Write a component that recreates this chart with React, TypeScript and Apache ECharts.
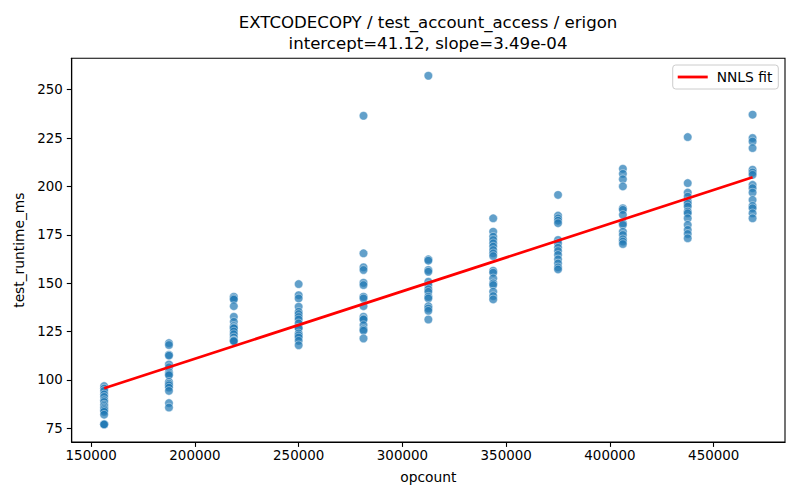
import React, { useEffect, useRef } from "react";
import * as echarts from "echarts";

const titleLine1 = "EXTCODECOPY / test_account_access / erigon";
const titleLine2 = "intercept=41.12, slope=3.49e-04";
const xAxisName = "opcount";
const yAxisName = "test_runtime_ms";
const legendName = "NNLS fit";

const intercept = 41.12;
const slope = 3.49e-4;

const opcounts = [156250, 187500, 218750, 250000, 281250, 312500, 343750, 375000, 406250, 437500, 468750];

const runtimes156250 = [96.8, 95.5, 94.3, 92.5, 91.2, 89.5, 88.6, 87.2, 86.5, 85.7, 85.0, 84.3, 83.5, 82.0, 77.2, 76.9, 77.0];
const runtimes187500 = [119, 118, 113, 112.5, 108, 106.5, 104, 103, 102.4, 99, 98, 97.2, 96, 94.3, 88, 85.7];
const runtimes218750 = [143, 142.1, 141.5, 138.1, 132.6, 130, 127.8, 127, 126.6, 125, 123.6, 121.9, 120.5, 120.3, 120];
const runtimes250000 = [149.5, 143.8, 142.1, 137.8, 135.2, 134, 132.5, 131.2, 129.2, 127, 126.6, 124, 123, 121.9, 120.2, 117.9];
const runtimes281250 = [236.5, 165.4, 158.2, 156.8, 150.2, 149, 143, 142.1, 138.1, 132.6, 131.5, 131.2, 128.3, 126.1, 125.4, 121.4];
const runtimes312500 = [257.2, 162.3, 161.6, 156.8, 155.9, 150.7, 149, 146.8, 145.5, 143, 142.1, 138.1, 136.9, 135.7, 131.2];
const runtimes343750 = [183.5, 176.6, 174, 172.3, 170.6, 168.9, 167.1, 165.4, 164, 156.4, 155.4, 152.5, 149.9, 149, 145.6, 143.3, 141.6];
const runtimes375000 = [195.6, 184.9, 183.5, 182.3, 181, 172.3, 170.6, 168.3, 166.6, 164.6, 162.3, 160.2, 158.2, 157.1];
const runtimes406250 = [209.1, 206.5, 203.7, 200, 188.7, 187.9, 185.3, 181, 180.1, 176.6, 174.9, 172.7, 171.5, 170.2];
const runtimes437500 = [225.5, 201.7, 196.8, 194.7, 192.2, 191, 189.6, 187, 186.1, 183.5, 180.1, 177.5, 175.4, 173.2];
const runtimes468750 = [237.1, 225, 223.2, 219.8, 208.6, 207.2, 206, 200.8, 199.1, 196.8, 193, 189.9, 188.7, 186.1, 183.5];

const runtimeColumns = [
  runtimes156250, runtimes187500, runtimes218750, runtimes250000, runtimes281250, runtimes312500,
  runtimes343750, runtimes375000, runtimes406250, runtimes437500, runtimes468750,
];

const xTicks = [150000, 200000, 250000, 300000, 350000, 400000, 450000];
const yTicks = [75, 100, 125, 150, 175, 200, 225, 250];

const FONT = "DejaVu Sans";

export default function App() {
  const ref = useRef<HTMLDivElement>(null);
  useEffect(() => {
    if (!ref.current) return;
    const chart = echarts.init(ref.current, null, { renderer: "svg" });

    const scatterData: number[][] = [];
    opcounts.forEach((x, i) => {
      runtimeColumns[i].forEach((y) => scatterData.push([x, y]));
    });
    const allY = scatterData.map((d) => d[1]);
    const xMinData = Math.min(...opcounts);
    const xMaxData = Math.max(...opcounts);
    const yMinData = Math.min(...allY);
    const yMaxData = Math.max(...allY);
    const xPad = (xMaxData - xMinData) * 0.05;
    const yPad = (yMaxData - yMinData) * 0.05;
    const fitData = [
      [xMinData, intercept + slope * xMinData],
      [xMaxData, intercept + slope * xMaxData],
    ];

    chart.setOption({
      animation: false,
      backgroundColor: "#ffffff",
      textStyle: { fontFamily: FONT },
      grid: {
        left: 71.7,
        right: 15,
        top: 58.3,
        bottom: 58,
        show: true,
        borderColor: "#000",
        borderWidth: 1.1,
        backgroundColor: "transparent",
      },
      graphic: [
        {
          type: "text",
          x: 428,
          y: 22,
          style: {
            text: titleLine1,
            font: `16.6px '${FONT}'`,
            fill: "#000",
            textAlign: "center",
            textVerticalAlign: "middle",
          },
        },
        {
          type: "text",
          x: 428,
          y: 43.5,
          style: {
            text: titleLine2,
            font: `16.6px '${FONT}'`,
            fill: "#000",
            textAlign: "center",
            textVerticalAlign: "middle",
          },
        },
      ],
      legend: {
        right: 21.7,
        top: 65,
        padding: [5, 6, 5, 5],
        backgroundColor: "rgba(255,255,255,0.8)",
        borderColor: "#cccccc",
        borderWidth: 1,
        borderRadius: 3,
        itemWidth: 30,
        itemHeight: 12,
        itemGap: 10,
        textStyle: { fontFamily: FONT, fontSize: 13.8, color: "#000", padding: [0, 0, 0, 4] },
        data: [{ name: legendName, icon: "path://M0,0 L30,0 L30,2.8 L0,2.8 Z" }],
      },
      xAxis: {
        type: "value",
        min: xMinData - xPad,
        max: xMaxData + xPad,
        name: xAxisName,
        nameLocation: "middle",
        nameGap: 28,
        nameTextStyle: { fontFamily: FONT, fontSize: 13.8, color: "#000" },
        splitLine: { show: false },
        axisLine: { show: true, lineStyle: { color: "#000", width: 1.1 } },
        axisTick: { show: true, length: 4.9, lineStyle: { color: "#000", width: 1.1 }, customValues: xTicks },
        axisLabel: {
          fontFamily: FONT,
          fontSize: 13.4,
          color: "#000",
          margin: 7,
          customValues: xTicks,
          formatter: (v: number) => String(v),
        },
      },
      yAxis: {
        type: "value",
        min: yMinData - yPad,
        max: yMaxData + yPad,
        name: yAxisName,
        nameLocation: "middle",
        nameGap: 42,
        nameRotate: 90,
        nameTextStyle: { fontFamily: FONT, fontSize: 13.8, color: "#000" },
        splitLine: { show: false },
        axisLine: { show: true, lineStyle: { color: "#000", width: 1.1 } },
        axisTick: { show: true, length: 4.9, lineStyle: { color: "#000", width: 1.1 }, customValues: yTicks },
        axisLabel: {
          fontFamily: FONT,
          fontSize: 13.4,
          color: "#000",
          margin: 9,
          customValues: yTicks,
          formatter: (v: number) => String(v),
        },
      },
      series: [
        {
          type: "scatter",
          name: "runs",
          data: scatterData,
          symbol: "circle",
          symbolSize: 8.5,
          itemStyle: { color: "#1f77b4", opacity: 0.7, borderColor: "#ffffff", borderWidth: 0.6 },
          z: 2,
        },
        {
          type: "line",
          name: legendName,
          data: fitData,
          symbol: "none",
          lineStyle: { color: "#ff0000", width: 2.7 },
          itemStyle: { color: "#ff0000" },
          z: 3,
        },
      ],
    });
    return () => chart.dispose();
  }, []);
  return (
    <div
      ref={ref}
      style={{ position: "fixed", left: 0, top: 0, width: 800, height: 500 }}
    />
  );
}
